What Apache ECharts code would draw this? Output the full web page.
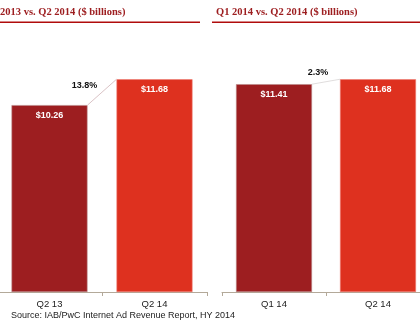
<!DOCTYPE html>
<html><head><meta charset="utf-8">
<script src="https://cdn.jsdelivr.net/npm/echarts@6/dist/echarts.min.js"></script>
<style>html,body{margin:0;padding:0;background:#fff}#c{width:420px;height:322px}</style>
</head><body><div id="c"></div>
<script>
const leftTitle = "2013 vs. Q2 2014 ($ billions)";
const rightTitle = "Q1 2014 vs. Q2 2014 ($ billions)";
const leftCats = ["Q2 13", "Q2 14"];
const leftVals = [10.26, 11.68];
const leftGrowth = "13.8%";
const rightCats = ["Q1 14", "Q2 14"];
const rightVals = [11.41, 11.68];
const rightGrowth = "2.3%";
const sourceText = "Source: IAB/PwC Internet Ad Revenue Report, HY 2014";

const DARK = "#9d1e20", BRIGHT = "#de311f", BW = 76;
const FONT = '"Liberation Sans", Arial, sans-serif';
const chart = echarts.init(document.getElementById('c'));

function barData(vals){
  return vals.map((v,i)=>({value:v,itemStyle:{color:i===0?DARK:BRIGHT,borderColor:i===0?"#b98a8a":"#ee7a70",borderWidth:0.6}}));
}
function connector(vals, growth, lineColor, dx, dy, idx){
  return {
    type:'custom', xAxisIndex: idx, yAxisIndex: idx,
    data:[[0, vals[0], vals[1]]], silent:true, z:5,
    renderItem:function(params, api){
      const p1 = api.coord([0, api.value(1)]);
      const p2 = api.coord([1, api.value(2)]);
      const x1 = p1[0] + BW/2, x2 = p2[0] - BW/2;
      return {type:'group', children:[
        {type:'line', shape:{x1:x1,y1:p1[1],x2:x2,y2:p2[1]}, style:{stroke:lineColor,lineWidth:0.8}},
        {type:'text', style:{text:growth, x:x1+dx, y:p2[1]+dy, align:'center', verticalAlign:'middle', font:'bold 9px '+FONT, fill:'#111'}}
      ]};
    }
  };
}
const axisCommon = {
  type:'category',
  axisLine:{lineStyle:{color:'#b3a999',width:1}},
  axisTick:{show:true,length:4,lineStyle:{color:'#b3a999'}},
  axisLabel:{color:'#222',fontSize:9.5,fontFamily:FONT,margin:7}
};
const yCommon = {type:'value',min:0,max:14,show:false,splitLine:{show:false}};
const labelCommon = {show:true,position:'insideTop',distance:6,color:'#fff',fontWeight:'bold',fontSize:9,fontFamily:FONT,formatter:p=>'$'+p.value.toFixed(2)};

chart.setOption({
  animation:false,
  grid:[{left:-3,width:210,top:37,bottom:30,outerBoundsMode:'none',containLabel:false},
        {left:222,width:208,top:37,bottom:30,outerBoundsMode:'none',containLabel:false}],
  xAxis:[Object.assign({gridIndex:0,data:leftCats},axisCommon),Object.assign({gridIndex:1,data:rightCats},axisCommon)],
  yAxis:[Object.assign({gridIndex:0},yCommon),Object.assign({gridIndex:1},yCommon)],
  series:[
    {type:'bar',xAxisIndex:0,yAxisIndex:0,barWidth:BW,data:barData(leftVals),label:labelCommon},
    {type:'bar',xAxisIndex:1,yAxisIndex:1,barWidth:BW,data:barData(rightVals),label:labelCommon},
    connector(leftVals,leftGrowth,'#cfb3b6',-3,6,0),
    connector(rightVals,rightGrowth,'#d8d4d4',6,-7,1)
  ],
  graphic:[
    {type:'text',left:0,top:7,style:{text:leftTitle,font:'bold 10.5px "Liberation Serif", Georgia, serif',fill:'#9d1e20'}},
    {type:'text',left:216,top:7,style:{text:rightTitle,font:'bold 10.5px "Liberation Serif", Georgia, serif',fill:'#9d1e20'}},
    {type:'rect',shape:{x:0,y:21.5,width:200,height:1.4},style:{fill:'#b00c0c'}},
    {type:'rect',shape:{x:212,y:21.5,width:208,height:1.4},style:{fill:'#b00c0c'}},
    {type:'text',left:11,top:311,style:{text:sourceText,font:'9px '+FONT,fill:'#222'}}
  ]
});
</script></body></html>
